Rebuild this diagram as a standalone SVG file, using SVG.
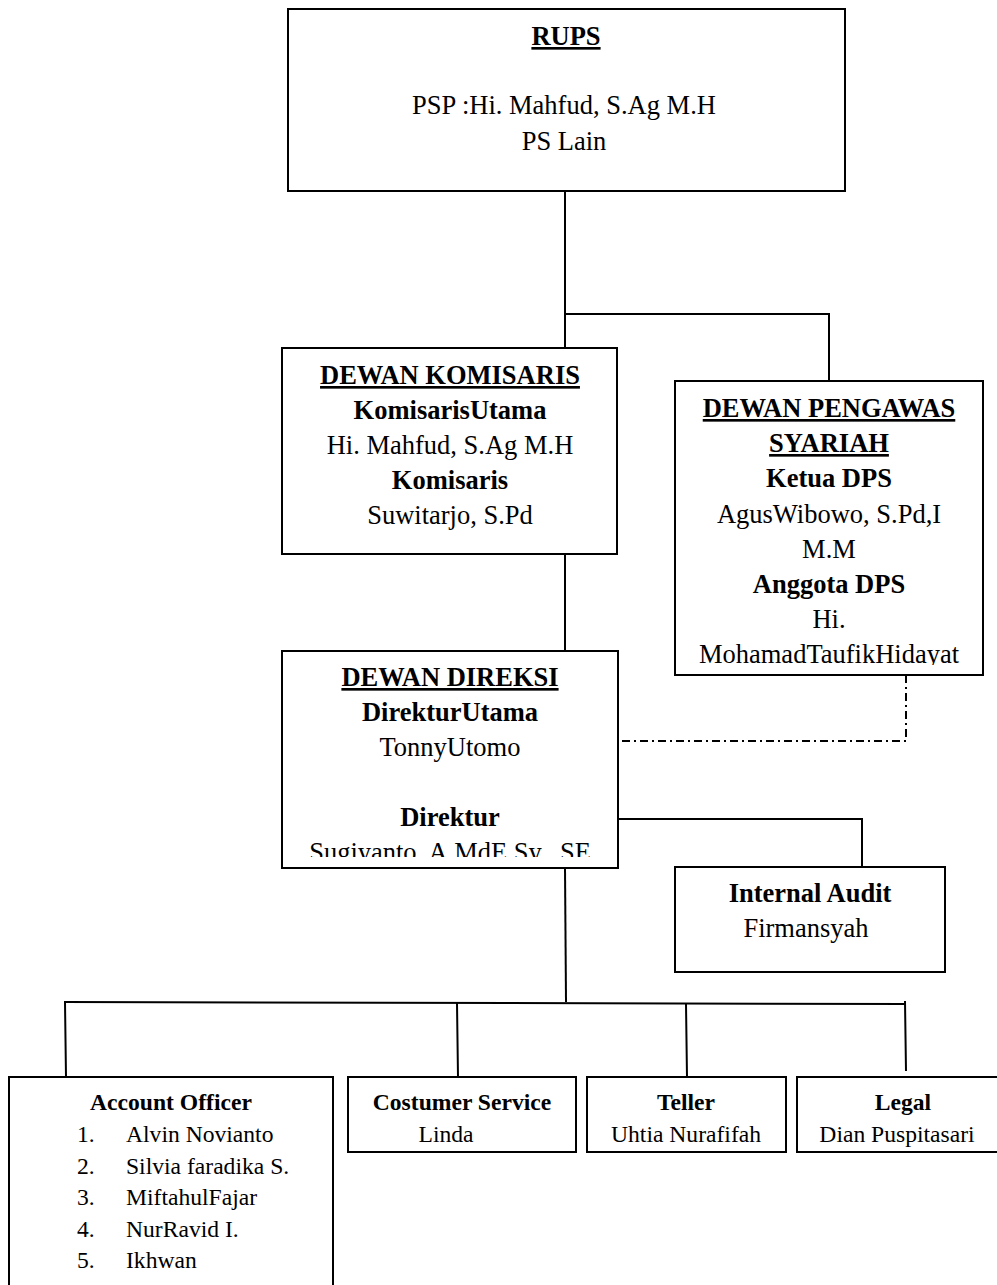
<svg xmlns="http://www.w3.org/2000/svg" width="997" height="1285" viewBox="0 0 997 1285">
<style>
.box{fill:#fff;stroke:#000;stroke-width:2}
.ln{fill:none;stroke:#000;stroke-width:2}
.dd{fill:none;stroke:#000;stroke-width:2;stroke-dasharray:8 4 2 4}
text{font-family:"Liberation Serif","Times New Roman",serif;fill:#000}
.t{font-size:26.5px;text-anchor:middle}
.b{font-weight:bold}
.u{text-decoration:underline}
.s{font-size:23.6px}
.sm{text-anchor:middle}
</style>
<defs>
<clipPath id="clipDps"><rect x="675" y="381" width="308" height="284"/></clipPath>
<clipPath id="clipDir"><rect x="282" y="651" width="336" height="206"/></clipPath>
</defs>
<g id="connectors">
<path class="ln" d="M565 191V348M565 314H829V381"/>
<path class="ln" d="M565 554V651"/>
<path class="dd" d="M906 675V741H618"/>
<path class="ln" d="M618 819H862V867"/>
<path class="ln" d="M565 868L566 1002"/>
<path class="ln" d="M64 1002L906 1004"/>
<path class="ln" d="M65 1002L66 1077M457 1003L458 1077M686 1004L687 1077M905 1001L906 1071"/>
</g>
<g id="rups">
<rect class="box" x="288" y="9" width="557" height="182"/>
<text class="t b u" x="566" y="45">RUPS</text>
<text class="t" x="564" y="114">PSP :Hi. Mahfud, S.Ag M.H</text>
<text class="t" x="564" y="150">PS Lain</text>
</g>
<g id="dewan-komisaris">
<rect class="box" x="282" y="348" width="335" height="206"/>
<text class="t b u" x="450" y="384">DEWAN KOMISARIS</text>
<text class="t b" x="450" y="419">KomisarisUtama</text>
<text class="t" x="450" y="454">Hi. Mahfud, S.Ag M.H</text>
<text class="t b" x="450" y="489">Komisaris</text>
<text class="t" x="450" y="524">Suwitarjo, S.Pd</text>
</g>
<g id="dewan-pengawas-syariah">
<rect class="box" x="675" y="381" width="308" height="294"/>
<g clip-path="url(#clipDps)">
<text class="t b u" x="829" y="417">DEWAN PENGAWAS</text>
<text class="t b u" x="829" y="452">SYARIAH</text>
<text class="t b" x="829" y="487">Ketua DPS</text>
<text class="t" x="829" y="523">AgusWibowo, S.Pd,I</text>
<text class="t" x="829" y="558">M.M</text>
<text class="t b" x="829" y="593">Anggota DPS</text>
<text class="t" x="829" y="628">Hi.</text>
<text class="t" x="829" y="663">MohamadTaufikHidayat</text>
</g>
</g>
<g id="dewan-direksi">
<rect class="box" x="282" y="651" width="336" height="217"/>
<g clip-path="url(#clipDir)">
<text class="t b u" x="450" y="686">DEWAN DIREKSI</text>
<text class="t b" x="450" y="721">DirekturUtama</text>
<text class="t" x="450" y="756">TonnyUtomo</text>
<text class="t b" x="450" y="826">Direktur</text>
<text class="t" x="450" y="861">Sugiyanto, A.MdE.Sy., SE</text>
</g>
</g>
<g id="internal-audit">
<rect class="box" x="675" y="867" width="270" height="105"/>
<text class="t b" x="810" y="902">Internal Audit</text>
<text class="t" x="806" y="937">Firmansyah</text>
</g>
<g id="account-officer">
<rect class="box" x="9" y="1077" width="324" height="215"/>
<text class="s b sm" x="171" y="1110">Account Officer</text>
<text class="s" x="77" y="1142">1.</text><text class="s" x="126" y="1142">Alvin Novianto</text>
<text class="s" x="77" y="1174">2.</text><text class="s" x="126" y="1174">Silvia faradika S.</text>
<text class="s" x="77" y="1205">3.</text><text class="s" x="126" y="1205">MiftahulFajar</text>
<text class="s" x="77" y="1237">4.</text><text class="s" x="126" y="1237">NurRavid I.</text>
<text class="s" x="77" y="1268">5.</text><text class="s" x="126" y="1268">Ikhwan</text>
</g>
<g id="costumer-service">
<rect class="box" x="348" y="1077" width="228" height="75"/>
<text class="s b sm" x="462" y="1110">Costumer Service</text>
<text class="s sm" x="446" y="1142">Linda</text>
</g>
<g id="teller">
<rect class="box" x="587" y="1077" width="199" height="75"/>
<text class="s b sm" x="686" y="1110">Teller</text>
<text class="s sm" x="686" y="1142">Uhtia Nurafifah</text>
</g>
<g id="legal">
<rect class="box" x="797" y="1077" width="210" height="75"/>
<text class="s b sm" x="903" y="1110">Legal</text>
<text class="s sm" x="897" y="1142">Dian Puspitasari</text>
</g>
</svg>
